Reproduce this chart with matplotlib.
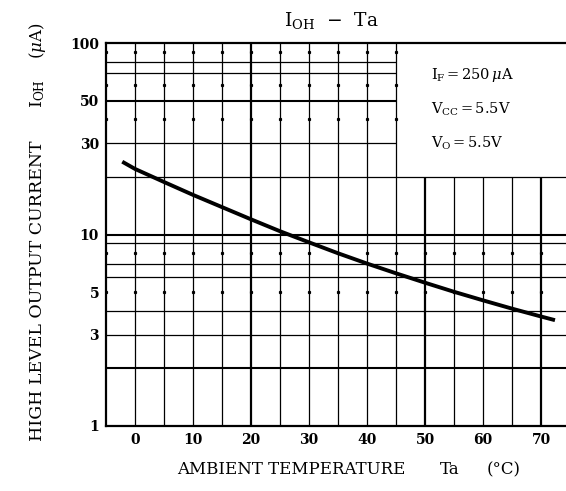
import numpy as np
import matplotlib
matplotlib.use("Agg")
import matplotlib.pyplot as plt

plt.rcParams['font.family'] = ['DejaVu Serif']
plt.rcParams['mathtext.fontset'] = 'dejavuserif'

# curva IOH - Ta
ta = [-2.2, 0, 5, 10, 15, 20, 25, 30, 35, 40, 45, 50, 55, 60, 65, 70, 72.4]
ioh = [24.0, 22.0, 18.8, 16.1, 13.9, 12.0, 10.4, 9.1, 7.98, 7.05, 6.27,
       5.60, 5.02, 4.53, 4.10, 3.73, 3.57]

# rejilla
x_lines = [0, 5, 10, 15, 20, 25, 30, 35, 40, 45, 50, 55, 60, 65, 70]
x_thick = [20, 50, 70]
y_lines = [80, 70, 50, 30, 20, 9, 7, 6, 4, 3, 2, 10]
y_thick = [50, 10, 2]
y_dots = [90, 60, 40, 8, 5]
x_ticks = [0, 10, 20, 30, 40, 50, 60, 70]
y_ticks = [1, 3, 5, 10, 30, 50, 100]

x_box = 45   # esquina del recuadro de condiciones
y_box = 20
x_min, x_max = -5, 74.3
y_min, y_max = 1, 100

fig = plt.figure(figsize=(5.66, 4.91), dpi=100)
ax = fig.add_axes([0.1873, 0.1324, 0.8127, 0.78])
ax.set_yscale('log')
ax.set_xlim(x_min, x_max)
ax.set_ylim(y_min, y_max)

# lineas horizontales (las de arriba de 20 se cortan en el recuadro)
for y in y_lines:
    lw = 1.5 if y in y_thick else 0.9
    x_end = x_box if y > y_box else x_max
    ax.hlines(y, x_min, x_end, colors='black', lw=lw, zorder=1)

# lineas verticales
for x in x_lines:
    lw = 1.6 if x in x_thick else 0.9
    y_end = y_box if x > x_box else y_max
    ax.vlines(x, y_min, y_end, colors='black', lw=lw, zorder=1)

# puntos de la rejilla
for y in y_dots:
    xs = [x for x in [x_min] + x_lines if y < y_box or x <= x_box]
    ax.plot(xs, [y] * len(xs), 's', color='black', ms=1.3, zorder=2)

ax.plot(ta, ioh, color='black', lw=2.8, solid_capstyle='butt', zorder=3)

for s in ['left', 'bottom', 'top']:
    ax.spines[s].set_linewidth(1.6)
ax.spines['right'].set_visible(False)

ax.set_xticks(x_ticks)
ax.set_xticklabels([str(v) for v in x_ticks], fontsize=10, fontweight='bold')
ax.set_yticks(y_ticks)
ax.set_yticklabels([str(v) for v in y_ticks], fontsize=10, fontweight='bold')
ax.yaxis.set_minor_locator(matplotlib.ticker.NullLocator())
ax.tick_params(length=0, pad=5)

ax.text(51, 68, r'I$_{\rm F}$$\,$=$\,$250$\,\mu$A', fontsize=10.5, va='center')
ax.text(51, 45, r'V$_{\rm CC}$$\,$=$\,$5.5V', fontsize=10.5, va='center')
ax.text(51, 30, r'V$_{\rm O}$$\,$=$\,$5.5V', fontsize=10.5, va='center')

# titulo
fig.text(0.585, 0.947, r'I$_{\rm OH}$  $-$  Ta', fontsize=13.5, ha='center',
         va='baseline')

# etiqueta eje x
fig.text(0.514, 0.044, 'AMBIENT TEMPERATURE', fontsize=12, ha='center', va='center')
fig.text(0.795, 0.044, 'Ta', fontsize=12, ha='center', va='center')
fig.text(0.890, 0.044, '(\u00b0C)', fontsize=12, ha='center', va='center')

# etiqueta eje y
fig.text(0.067, 0.407, 'HIGH LEVEL OUTPUT CURRENT', fontsize=12.5, rotation=90,
         ha='center', va='center')
fig.text(0.067, 0.810, r'I$_{\rm OH}$', fontsize=12.5, rotation=90,
         ha='center', va='center')
fig.text(0.067, 0.916, r'($\mu$A)', fontsize=12, rotation=90,
         ha='center', va='center')

fig.savefig('out.png', dpi=100)
